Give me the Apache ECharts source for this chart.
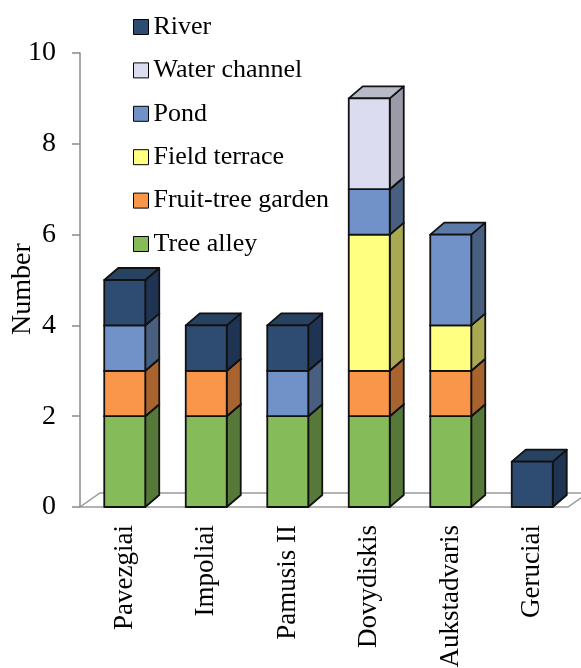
<!DOCTYPE html>
<html>
<head>
<meta charset="utf-8">
<script src="https://cdn.jsdelivr.net/npm/echarts@6/dist/echarts.min.js"></script>
<style>
  html, body { margin: 0; padding: 0; background: #fff; }
  #chart { width: 581px; height: 668px; }
</style>
</head>
<body>
<div id="chart"></div>
<script>
// Sites and counts of each landscape element type
const categories = ['Pavezgiai', 'Impoliai', 'Pamusis II', 'Dovydiskis', 'Aukstadvaris', 'Geruciai'];
const treeAlley       = [2, 2, 2, 2, 2, 0];
const fruitTreeGarden = [1, 1, 0, 1, 1, 0];
const fieldTerrace    = [0, 0, 0, 3, 1, 0];
const pond            = [1, 0, 1, 1, 2, 0];
const waterChannel    = [0, 0, 0, 2, 0, 0];
const river           = [1, 1, 1, 0, 0, 1];
const yTicks          = [0, 2, 4, 6, 8, 10];

// Stack order, bottom to top, with face shades for the pseudo-3D columns
const layers = [
  { name: 'Tree alley',        values: treeAlley,       front: '#86BB5A', side: '#56793A', top: '#6C9A47' },
  { name: 'Fruit-tree garden', values: fruitTreeGarden, front: '#F99649', side: '#A9632E', top: '#D07B3A' },
  { name: 'Field terrace',     values: fieldTerrace,    front: '#FFFF80', side: '#A9A853', top: '#D5D46A' },
  { name: 'Pond',              values: pond,            front: '#7092C8', side: '#485F80', top: '#5B7AA8' },
  { name: 'Water channel',     values: waterChannel,    front: '#DCDCF0', side: '#9A9BA8', top: '#B9BAC8' },
  { name: 'River',             values: river,           front: '#2E4B72', side: '#1F3352', top: '#284262' }
];

const DX = 14, DY = 12;     // column depth offset
const FDX = 20, FDY = 14;   // floor depth offset
const EDGE = { stroke: '#111', lineWidth: 1.8, lineJoin: 'round' };

function columnRenderer(layer) {
  return function (params, api) {
    const cat = api.value(0), lo = api.value(1), hi = api.value(2);
    const pLo = api.coord([cat, lo]);
    const pHi = api.coord([cat, hi]);
    const w = api.size([1, 0])[0] * 0.503;
    const x0 = pLo[0] - w / 2, x1 = x0 + w;
    const yb = pLo[1], yt = pHi[1];
    return {
      type: 'group',
      children: [
        { type: 'polygon', shape: { points: [[x1, yb], [x1, yt], [x1 + DX, yt - DY], [x1 + DX, yb - DY]] },
          style: Object.assign({ fill: layer.side }, EDGE) },
        { type: 'polygon', shape: { points: [[x0, yt], [x0 + DX, yt - DY], [x1 + DX, yt - DY], [x1, yt]] },
          style: Object.assign({ fill: layer.top }, EDGE) },
        { type: 'rect', shape: { x: x0, y: yt, width: w, height: yb - yt },
          style: Object.assign({ fill: layer.front }, EDGE) }
      ]
    };
  };
}

function floorRenderer(params, api) {
  const cs = params.coordSys;
  const y0 = api.coord([0, 0])[1];
  const xl = cs.x - 4, xr = cs.x + cs.width - 5;
  return {
    type: 'polygon',
    shape: { points: [[xl, y0], [xr, y0], [xr + FDX, y0 - FDY], [xl + FDX, y0 - FDY]] },
    style: { fill: '#fff', stroke: '#9A9A9A', lineWidth: 1.5 }
  };
}

// Running totals give each segment its bottom and top
const base = categories.map(() => 0);
const columnSeries = layers.map(layer => {
  const data = [];
  layer.values.forEach((v, i) => {
    if (v > 0) data.push([i, base[i], base[i] + v]);
    base[i] += v;
  });
  return {
    type: 'custom',
    name: layer.name,
    renderItem: columnRenderer(layer),
    itemStyle: { color: layer.front },
    encode: { x: 0, y: [1, 2] },
    data: data,
    z: 3
  };
});

const chart = echarts.init(document.getElementById('chart'));
chart.setOption({
  animation: false,
  backgroundColor: '#fff',
  grid: { left: 84, top: 53, width: 489, height: 454, outerBoundsMode: 'none', containLabel: false },
  legend: {
    orient: 'vertical',
    left: 128,
    top: 9,
    itemWidth: 15,
    itemHeight: 15,
    itemGap: 17.4,
    icon: 'rect',
    data: layers.map(l => l.name).reverse(),
    itemStyle: { borderColor: '#000', borderWidth: 1 },
    textStyle: { fontFamily: 'Liberation Serif', fontSize: 26, lineHeight: 25, color: '#000' }
  },
  xAxis: {
    type: 'category',
    data: categories,
    boundaryGap: true,
    axisLine: { show: false },
    axisTick: { show: false },
    axisLabel: { rotate: 90, margin: 18, fontFamily: 'Liberation Serif', fontSize: 27, color: '#000' }
  },
  yAxis: {
    type: 'value',
    min: yTicks[0],
    max: yTicks[yTicks.length - 1],
    interval: yTicks[1] - yTicks[0],
    offset: 4,
    splitLine: { show: false },
    axisLine: { show: true, lineStyle: { color: '#8A8A8A', width: 1.5 } },
    axisTick: { show: true, length: 8, lineStyle: { color: '#8A8A8A', width: 1.5 } },
    axisLabel: { margin: 24, fontFamily: 'Liberation Serif', fontSize: 28, color: '#000' }
  },
  graphic: [{
    type: 'text',
    x: 22.5,
    y: 289,
    rotation: Math.PI / 2,
    style: { text: 'Number', fontFamily: 'Liberation Serif', fontSize: 28, fill: '#000', align: 'center', verticalAlign: 'middle' }
  }],
  series: [{
    type: 'custom',
    name: 'floor',
    renderItem: floorRenderer,
    encode: { x: 0, y: 1 },
    data: [[0, 0]],
    silent: true,
    z: 1
  }].concat(columnSeries)
});
</script>
</body>
</html>
